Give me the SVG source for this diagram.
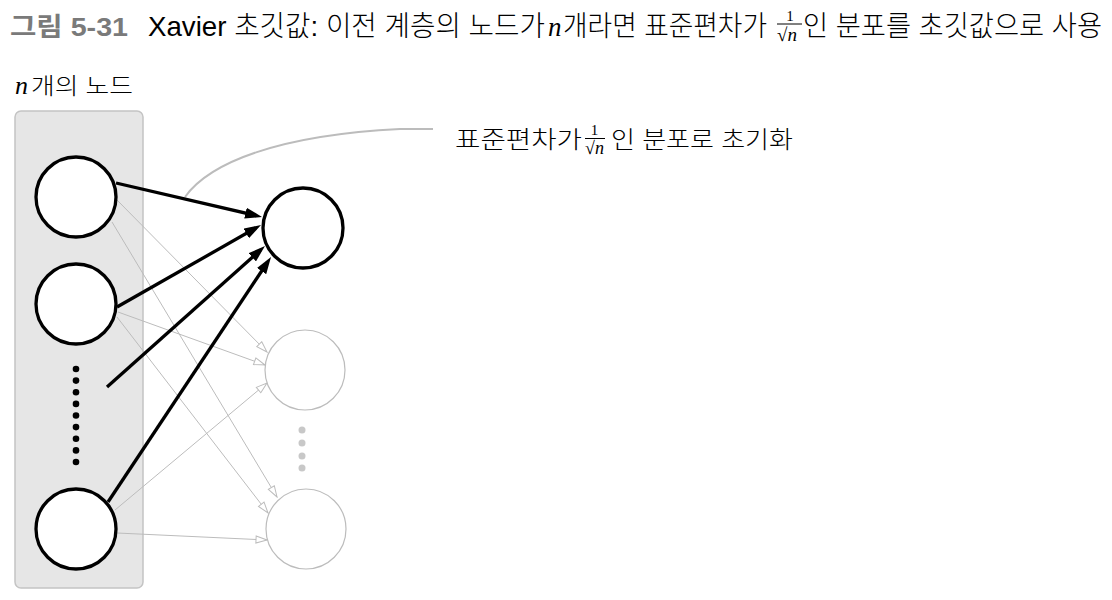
<svg xmlns="http://www.w3.org/2000/svg" width="1112" height="600" viewBox="0 0 1112 600">
<style>
.t{font-family:"Liberation Sans","Noto Sans CJK KR",sans-serif;fill:#000;font-weight:300}
.m{font-family:"Liberation Serif","DejaVu Serif",serif;font-style:italic;fill:#000}
.s{font-family:"Liberation Serif","DejaVu Serif",serif;fill:#000}
.bn{fill:#fff;stroke:#000;stroke-width:3.3}
.gn{fill:#fff;stroke:#bcbcbc;stroke-width:1.2}
.be{fill:none;stroke:#000;stroke-width:3.3;marker-end:url(#ah)}
.ge{fill:none;stroke:#bcbcbc;stroke-width:1;marker-end:url(#oh)}
.bar{stroke:#000;stroke-width:1}
</style>
<defs>
<marker id="ah" markerUnits="userSpaceOnUse" viewBox="0 0 17 11" refX="11" refY="5.5" markerWidth="17" markerHeight="11" orient="auto">
<path d="M0,0 L17,5.5 L0,11 z" fill="#000"/>
</marker>
<marker id="oh" markerUnits="userSpaceOnUse" viewBox="0 0 13 9" refX="12" refY="4.5" markerWidth="13" markerHeight="9" orient="auto">
<path d="M1,1 L12,4.5 L1,8 z" fill="#fff" stroke="#bcbcbc" stroke-width="1"/>
</marker>
</defs>
<rect width="1112" height="600" fill="#fff"/>

<g id="title">
<text x="10" y="36" font-size="26" font-weight="bold" fill="#7a7a7a" font-family="Liberation Sans, Noto Sans CJK KR, sans-serif" textLength="118" lengthAdjust="spacingAndGlyphs">그림 5-31</text>
<text class="t" x="148" y="36" font-size="28" textLength="397" lengthAdjust="spacingAndGlyphs">Xavier 초깃값: 이전 계층의 노드가</text>
<text class="m" x="548" y="36" font-size="27">n</text>
<text class="t" x="563" y="36" font-size="28" textLength="204" lengthAdjust="spacingAndGlyphs">개라면 표준편차가</text>
<text class="s" x="790" y="20.5" font-size="15" text-anchor="middle">1</text>
<line class="bar" x1="777" y1="24" x2="802" y2="24"/>
<text class="s" x="777" y="41" font-size="19">√<tspan class="m">n</tspan></text>
<text class="t" x="803" y="36" font-size="28" textLength="299" lengthAdjust="spacingAndGlyphs">인 분포를 초깃값으로 사용</text>
</g>

<g id="layer-label">
<text class="m" x="15" y="94" font-size="26">n</text>
<text class="t" x="31" y="94" font-size="23" textLength="102" lengthAdjust="spacingAndGlyphs">개의 노드</text>
</g>

<g id="input-layer">
<rect x="15" y="111" width="128" height="477" rx="6" fill="#e6e6e6" stroke="#c4c4c4" stroke-width="1.5"/>
</g>

<g id="callout">
<path d="M185,197 C210,162 280,135 400,129 L433,129" fill="none" stroke="#bcbcbc" stroke-width="2"/>
<text class="t" x="455" y="148" font-size="24" textLength="127" lengthAdjust="spacingAndGlyphs">표준편차가</text>
<text class="s" x="594.5" y="135" font-size="15" text-anchor="middle">1</text>
<line class="bar" x1="585" y1="138.5" x2="605" y2="138.5"/>
<text class="s" x="585" y="154" font-size="18">√<tspan class="m">n</tspan></text>
<text class="t" x="611" y="148" font-size="24" textLength="182" lengthAdjust="spacingAndGlyphs">인 분포로 초기화</text>
</g>

<g id="connectors">
<path class="ge" d="M117,200 L267,352"/>
<path class="ge" d="M112,222 L277,497"/>
<path class="ge" d="M118,312 L265,365"/>
<path class="ge" d="M117,317 L268,513"/>
<path class="ge" d="M115,510 L267,383"/>
<path class="ge" d="M117,533 L267,540"/>
<path class="be" d="M116,183 L256.2,215.6"/>
<path class="be" d="M117,307 L255.8,228"/>
<path class="be" d="M107,387 L260.5,250"/>
<path class="be" d="M108,502 L267.7,262"/>
</g>

<g id="in-node-1"><circle class="bn" cx="76" cy="197" r="40"/></g>
<g id="in-node-2"><circle class="bn" cx="76" cy="304" r="40"/></g>
<g id="in-ellipsis" fill="#000">
<circle cx="76" cy="369" r="3.3"/><circle cx="76" cy="380.6" r="3.3"/><circle cx="76" cy="392.2" r="3.3"/>
<circle cx="76" cy="403.9" r="3.3"/><circle cx="76" cy="415.5" r="3.3"/><circle cx="76" cy="427.1" r="3.3"/>
<circle cx="76" cy="438.8" r="3.3"/><circle cx="76" cy="450.4" r="3.3"/><circle cx="76" cy="462" r="3.3"/>
</g>
<g id="in-node-n"><circle class="bn" cx="76" cy="529" r="40"/></g>

<g id="out-node-1"><circle class="bn" cx="303" cy="228" r="40"/></g>
<g id="out-node-2"><circle class="gn" cx="305" cy="370" r="40"/></g>
<g id="out-ellipsis" fill="#c8c8c8">
<circle cx="302" cy="430" r="3.5"/><circle cx="302" cy="443" r="3.5"/><circle cx="302" cy="456" r="3.5"/><circle cx="302" cy="468" r="3.5"/>
</g>
<g id="out-node-3"><circle class="gn" cx="306" cy="529" r="40"/></g>
</svg>
